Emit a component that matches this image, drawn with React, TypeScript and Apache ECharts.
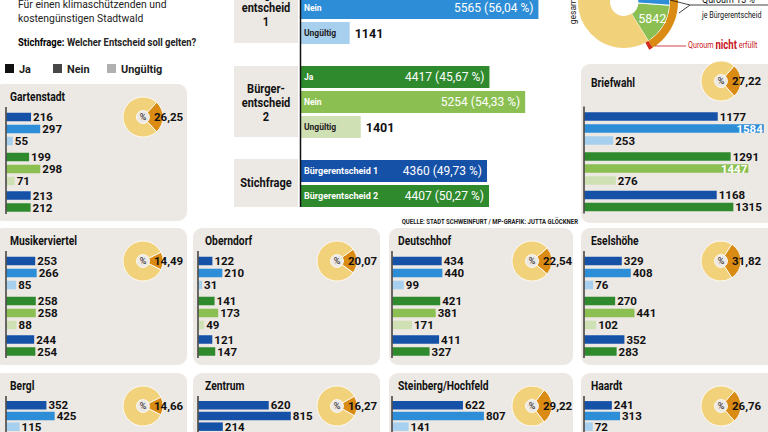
import React, { useEffect, useRef } from "react";
import * as echarts from "echarts";

const FONT = "Roboto,'Noto Sans',sans-serif";

// ---------- data ----------
const districts = ["Gartenstadt", "Briefwahl", "Musikerviertel", "Oberndorf", "Deutschhof", "Eselshöhe", "Bergl", "Zentrum", "Steinberg/Hochfeld", "Haardt"];
const be1Ja = [216, 1177, 253, 122, 434, 329, 352, 620, 622, 241];
const be1Nein = [297, 1584, 266, 210, 440, 408, 425, 815, 807, 313];
const be1Ung = [55, 253, 85, 31, 99, 76, 115, 214, 141, 72];
const be2Ja = [199, 1291, 258, 141, 421, 270, null, null, null, null];
const be2Nein = [298, 1447, 258, 173, 381, 441, null, null, null, null];
const be2Ung = [71, 276, 88, 49, 171, 102, null, null, null, null];
const stich1 = [213, 1168, 244, 121, 411, 352, null, null, null, null];
const stich2 = [212, 1315, 254, 147, 327, 283, null, null, null, null];
const turnout = [26.25, 27.22, 14.49, 20.07, 22.54, 31.82, 14.66, 16.27, 29.22, 26.76];

const answerCats = ["Ja", "Nein", "Ungültig"];
const stichCats = ["Bürgerentscheid 1", "Bürgerentscheid 2"];
const mainBE1 = [4366, 5565, 1141];
const mainBE1Pct = ["43,96", "56,04", ""];
const mainBE2 = [4417, 5254, 1401];
const mainBE2Pct = ["45,67", "54,33", ""];
const mainStich = [4360, 4407];
const mainStichPct = ["49,73", "50,27"];
const groupTitles = ["Bürger-\nentscheid\n1", "Bürger-\nentscheid\n2", "Stichfrage"];

// overall donut ("gesamt"): quorum 15 % = 5842 votes
const bigInnerNames = ["Quorum", "Rest", "Ja"];
const bigInnerValues = [5842, 28739, 4366];
const bigOuterValues = [10208, 450, 28289];

const introLines = ["Für einen klimaschützenden und", "kostengünstigen Stadtwald"];
const legendNames = ["Ja", "Nein", "Ungültig"];
const source = "QUELLE: STADT SCHWEINFURT / MP-GRAFIK: JUTTA GLÖCKNER";

// ---------- styles ----------
const DK_BLUE = "#1651a8";
const MD_BLUE = "#2d8dd6";
const LT_BLUE = "#a7d0ee";
const DK_GREEN = "#2f8a2d";
const MD_GREEN = "#8bbf52";
const LT_GREEN = "#cfe1b4";
const PANEL = "#ece8e4";
const YELLOW = "#f1d17a";
const ORANGE = "#d98b13";

const COLS = [
  { x: -6, w: 193, ax: 6, cx: 143, tx: 10 },
  { x: 193, w: 187, ax: 198, cx: 337, tx: 205 },
  { x: 389, w: 184, ax: 392, cx: 532, tx: 398 },
  { x: 581, w: 195, ax: 584, cx: 721, tx: 591 },
];
// col, top, height, big
const LAYOUT: [number, number, number, number][] = [
  [0, 84, 137, 0], [3, 64, 159, 1],
  [0, 228, 137, 0], [1, 228, 137, 0], [2, 228, 137, 0], [3, 228, 137, 0],
  [0, 373, 137, 0], [1, 373, 137, 0], [2, 373, 137, 0], [3, 373, 137, 0],
];

function txt(x: number, y: number, text: string, o: any = {}, sx = 1) {
  const { align = "left", ...style } = o;
  return { type: "text", x, y, z: 10, scaleX: sx, style: { text, fontFamily: FONT, fill: "#111", verticalAlign: "middle", align, ...style } };
}

function buildOption() {
  const grid: any[] = [], xAxis: any[] = [], yAxis: any[] = [], series: any[] = [], graphic: any[] = [];
  const addGrid = (left: number, top: number, width: number, height: number, cats: string[], max: number, yExtra: any = {}) => {
    const i = grid.length;
    grid.push({ left, top, width, height });
    xAxis.push({ type: "value", gridIndex: i, min: 0, max, show: false });
    yAxis.push({ type: "category", gridIndex: i, data: cats, inverse: true, show: false, ...yExtra });
    return i;
  };

  // ---------- intro ----------
  introLines.forEach((t, k) => graphic.push(txt(18, 4 + k * 14, t, { fontSize: 11.5, fill: "#222" }, 0.9)));
  graphic.push(txt(18, 42, "{b|Stichfrage:} Welcher Entscheid soll gelten?", { fontSize: 11.5, fontWeight: "bold", fill: "#222", rich: { b: { fontWeight: "bold", fontSize: 11.5, fontFamily: FONT, fill: "#000" } } }, 0.82));
  const legCols = ["#111", "#474747", "#b0b0b0"];
  const legX = [5, 53, 107];
  legendNames.forEach((n, k) => {
    graphic.push({ type: "rect", shape: { x: legX[k], y: 64, width: 9, height: 9 }, style: { fill: legCols[k] } });
    graphic.push(txt(legX[k] + 14, 69, n, { fontSize: 11.5, fontWeight: "bold", fill: "#222" }, 0.95));
  });

  // ---------- main chart ----------
  const MAIN_MAX = 6000, MAIN_W = 256;
  const mainGroups = [
    { cats: answerCats, values: mainBE1, pct: mainBE1Pct, colors: [DK_BLUE, MD_BLUE, LT_BLUE], dark: [1, 1, 0], box: [-28, 71], ty: 8 },
    { cats: answerCats, values: mainBE2, pct: mainBE2Pct, colors: [DK_GREEN, MD_GREEN, LT_GREEN], dark: [1, 1, 0], box: [66, 71], ty: 103 },
    { cats: stichCats, values: mainStich, pct: mainStichPct, colors: [DK_BLUE, DK_GREEN], dark: [1, 1], box: [159, 48], ty: 183 },
  ];
  mainGroups.forEach((g, gi) => {
    graphic.push({ type: "rect", shape: { x: 234, y: g.box[0], width: 64, height: g.box[1] }, style: { fill: PANEL } });
    graphic.push(txt(266, g.ty, groupTitles[gi], { fontSize: 13, lineHeight: 14, fontWeight: "bold", align: "center" }, 0.85));
    let idx: number;
    if (gi === 0) {
      // first row ("Ja") lies above the visible area: category axis from index 1 to 2
      idx = addGrid(301, 8, MAIN_W, 25, g.cats, MAIN_MAX, { boundaryGap: false, min: 1, max: 2 });
    } else {
      idx = addGrid(301, gi === 1 ? 64.5 : 158.5, MAIN_W, g.cats.length * 25, g.cats, MAIN_MAX);
    }
    series.push({
      type: "bar", xAxisIndex: idx, yAxisIndex: idx, barWidth: 22, barGap: "-100%", silent: true, clip: false,
      data: g.values.map((v, k) => ({
        value: v, itemStyle: { color: g.colors[k] },
        label: { show: true, position: "insideLeft", distance: 3, formatter: g.cats[k], color: g.dark[k] ? "#fff" : "#222", fontSize: gi === 2 ? 9 : 8.5, fontWeight: "bold", fontFamily: FONT },
      })),
    });
    series.push({
      type: "bar", xAxisIndex: idx, yAxisIndex: idx, barWidth: 22, barGap: "-100%", silent: true, clip: false, itemStyle: { color: "rgba(0,0,0,0)" },
      data: g.values.map((v, k) => ({
        value: v,
        label: g.pct[k]
          ? { show: true, position: "insideRight", distance: 5, formatter: `${v} (${g.pct[k]} %)`, color: "#fff", fontSize: 12, fontFamily: FONT }
          : { show: true, position: "right", distance: 5, formatter: String(v), color: "#111", fontSize: 12.5, fontWeight: "bold", fontFamily: FONT },
      })),
    });
  });
  graphic.push({ type: "line", z: 5, shape: { x1: 300.5, y1: 0, x2: 300.5, y2: 207 }, style: { stroke: "#111", lineWidth: 1.5 } });
  graphic.push(txt(578, 222, source, { fontSize: 7.5, fontWeight: "bold", fill: "#222", align: "right" }, 0.8));

  // ---------- big donut ----------
  const BC: [number, number] = [624, 2];
  const total = bigInnerValues.reduce((a, b) => a + b, 0);
  const innerStart = -4;
  const outerStart = innerStart + (bigInnerValues[2] / total) * 360;
  series.push({
    type: "pie", center: BC, radius: [14, 46], startAngle: innerStart, clockwise: true, silent: true,
    data: bigInnerValues.map((v, k) => ({
      name: bigInnerNames[k], value: v,
      itemStyle: { color: [MD_GREEN, YELLOW, MD_BLUE][k], borderColor: "#fff", borderWidth: k === 1 ? 0 : 1 },
      label: k === 0 ? { show: true, position: "inside", formatter: String(v), color: "#fff", fontSize: 12.5, fontFamily: FONT } : { show: false },
    })),
    labelLine: { show: false },
  });
  series.push({
    type: "pie", center: BC, radius: [46, 54], startAngle: outerStart, clockwise: true, silent: true, label: { show: false },
    data: bigOuterValues.map((v, k) => ({ value: v, itemStyle: { color: [ORANGE, "#d42a1a", "rgba(0,0,0,0)"][k] } })),
  });
  graphic.push({ ...txt(573, 10, "gesamt", { fontSize: 8.5, fill: "#222", align: "center" }), rotation: Math.PI / 2 });
  graphic.push({ type: "polyline", z: 10, shape: { points: [[670, 0], [690, 5], [768, 5]] }, style: { stroke: "#111", lineWidth: 0.8, fill: null } });
  graphic.push({ type: "line", z: 10, shape: { x1: 679, y1: 13, x2: 690, y2: 5 }, style: { stroke: "#111", lineWidth: 0.8 } });
  graphic.push(txt(702, -1, "Quroum 15 %", { fontSize: 10.5 }, 0.85));
  graphic.push(txt(702, 15, "je Bürgerentscheid", { fontSize: 9 }, 0.8));
  graphic.push({ type: "line", z: 10, shape: { x1: 655, y1: 46, x2: 686, y2: 46 }, style: { stroke: "#c8151b", lineWidth: 0.8 } });
  graphic.push(txt(688, 45, "Quroum {b|nicht} erfüllt", { fontSize: 9, fill: "#c8151b", rich: { b: { fontSize: 12, fontWeight: "bold", fontFamily: FONT, fill: "#c8151b" } } }, 0.8));

  // ---------- district panels ----------
  const P_MAX = 1600, P_W = 181;
  districts.forEach((name, d) => {
    const [ci, top, h, big] = LAYOUT[d];
    const c = COLS[ci];
    const off = big ? 19.5 : 0;
    graphic.push({ type: "rect", shape: { x: c.x, y: top, width: c.w, height: h, r: 9 }, style: { fill: PANEL } });
    graphic.push(txt(c.tx, top + (big ? 19 : 13), name, { fontSize: 12, fontWeight: "bold" }, 0.86));
    graphic.push({ type: "line", z: 5, shape: { x1: c.ax, y1: top + 23 + off, x2: c.ax, y2: top + 130 + off }, style: { stroke: "#111", lineWidth: 1.2 } });
    const zentrum = name === "Zentrum";
    const groups = [
      { cats: answerCats, vals: [be1Ja[d], be1Nein[d], be1Ung[d]], cols: zentrum ? [DK_BLUE, DK_BLUE, DK_BLUE] : [DK_BLUE, MD_BLUE, LT_BLUE], rel: 27 },
      { cats: answerCats, vals: [be2Ja[d], be2Nein[d], be2Ung[d]], cols: [DK_GREEN, MD_GREEN, LT_GREEN], rel: 67 },
      { cats: stichCats, vals: [stich1[d], stich2[d]], cols: [DK_BLUE, DK_GREEN], rel: 105.5 },
    ];
    const avail = Math.min(c.x + c.w, 768) - c.ax;
    groups.forEach((g) => {
      const idx = addGrid(c.ax + 0.6, top + off + g.rel, P_W, g.cats.length * 12, g.cats, P_MAX);
      series.push({
        type: "bar", xAxisIndex: idx, yAxisIndex: idx, barWidth: 8.5, silent: true,
        data: g.vals.map((v, k) => {
          if (v == null) return null;
          const inside = (v / P_MAX) * P_W + 26 > avail;
          return {
            value: v, itemStyle: { color: g.cols[k] },
            label: { show: true, position: inside ? "insideRight" : "right", distance: inside ? 1 : 2, formatter: String(v), color: inside ? "#fff" : "#111", fontSize: 11.5, fontWeight: "bold", fontFamily: FONT },
          };
        }),
      });
    });
    // donut
    const cx = c.cx, cy = top + (big ? 17 : 33);
    const p = turnout[d];
    series.push({
      type: "pie", center: [cx, cy], radius: [6.5, 20], startAngle: (p * 3.6) / 2, clockwise: true, silent: true, label: { show: false },
      data: [
        { value: p, itemStyle: { color: ORANGE, borderColor: "#fff", borderWidth: 0.8 } },
        { value: 100 - p, itemStyle: { color: YELLOW, borderColor: "#fff", borderWidth: 0.8 } },
      ],
    });
    graphic.push(txt(cx, cy, "%", { fontSize: 9, fill: "#222", align: "center" }));
    graphic.push(txt(cx + 11, cy, p.toFixed(2).replace(".", ","), { fontSize: 11.5, fontWeight: "bold" }));
  });

  return { animation: false, backgroundColor: "#fff", grid, xAxis, yAxis, series, graphic };
}

export default function App() {
  const ref = useRef<HTMLDivElement>(null);
  useEffect(() => {
    const chart = echarts.init(ref.current!, null, { renderer: "svg" });
    chart.setOption(buildOption() as any);
    return () => chart.dispose();
  }, []);
  return <div ref={ref} style={{ position: "absolute", left: 0, top: 0, width: 768, height: 432 }} />;
}
